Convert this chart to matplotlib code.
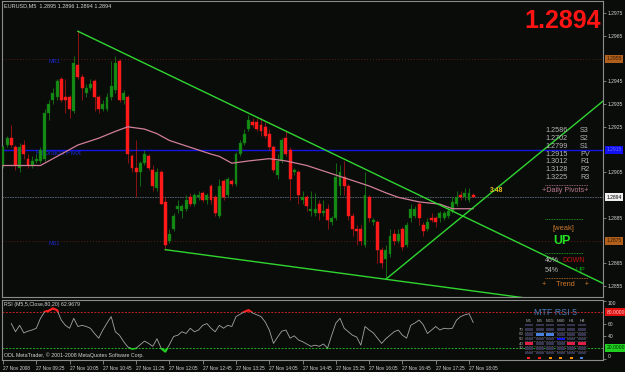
import numpy as np
import matplotlib
matplotlib.use('Agg')
import matplotlib.pyplot as plt
from matplotlib.lines import Line2D
from matplotlib.patches import Rectangle

plt.rcParams['font.family'] = ['Liberation Sans', 'DejaVu Sans']

W, H = 625, 372
BG = '#0a0c0a'
TXT = '#d4d4d4'
FRAME = '#8c8c8c'

SYMBOL = 'EURUSD,M5'

# ---- M5 candles, 27 Nov 2008, first bar 08:45 ----
opens = [1.2908, 1.2917, 1.2920, 1.2916, 1.2907, 1.2917, 1.2911, 1.2908, 1.2910, 1.2910,
         1.2911, 1.2931, 1.2937, 1.2938, 1.2946, 1.2938, 1.2938, 1.2932, 1.2952, 1.2947,
         1.2940, 1.2942, 1.2945, 1.2938, 1.2933, 1.2933, 1.2938, 1.2941, 1.2954, 1.2937,
         1.2938, 1.2912, 1.2907, 1.2905, 1.2909, 1.2912, 1.2906, 1.2898, 1.2905, 1.2892,
         1.2875, 1.2880, 1.2889, 1.2888, 1.2889, 1.2894, 1.2891, 1.2894, 1.2896, 1.2893,
         1.2899, 1.2894, 1.2886, 1.2901, 1.2895, 1.2901, 1.2900, 1.2913, 1.2918, 1.2924,
         1.2927, 1.2927, 1.2926, 1.2925, 1.2922, 1.2916, 1.2904, 1.2910, 1.2920, 1.2915,
         1.2905, 1.2905, 1.2893, 1.2894, 1.2888, 1.2887, 1.2891, 1.2887, 1.2889, 1.2883,
         1.2885, 1.2899, 1.2903, 1.2899, 1.2886, 1.2880, 1.2880, 1.2873, 1.2894, 1.2883,
         1.2883, 1.2871, 1.2867, 1.2869, 1.2878, 1.2875, 1.2880, 1.2873, 1.2885, 1.2886,
         1.2891, 1.2882, 1.2880, 1.2885, 1.2885, 1.2885, 1.2885, 1.2886, 1.2888, 1.2891,
         1.2895, 1.2894, 1.2893, 1.2895]
highs = [1.2917, 1.2921, 1.2926, 1.2917, 1.2918, 1.2919, 1.2913, 1.2912, 1.2913, 1.2916,
         1.2933, 1.2937, 1.2942, 1.2946, 1.2947, 1.2946, 1.2939, 1.2956, 1.2967, 1.2948,
         1.2944, 1.2946, 1.2946, 1.2939, 1.2937, 1.2940, 1.2954, 1.2956, 1.2955, 1.2941,
         1.2939, 1.2913, 1.2919, 1.2910, 1.2915, 1.2913, 1.2908, 1.2907, 1.2906, 1.2894,
         1.2880, 1.2887, 1.2893, 1.2891, 1.2895, 1.2896, 1.2896, 1.2897, 1.2897, 1.2896,
         1.2900, 1.2895, 1.2902, 1.2902, 1.2903, 1.2902, 1.2914, 1.2919, 1.2924, 1.2930,
         1.2929, 1.2929, 1.2929, 1.2927, 1.2924, 1.2917, 1.2913, 1.2920, 1.2923, 1.2916,
         1.2907, 1.2906, 1.2897, 1.2895, 1.2897, 1.2896, 1.2893, 1.2893, 1.2891, 1.2886,
         1.2909, 1.2908, 1.2910, 1.2900, 1.2887, 1.2882, 1.2882, 1.2905, 1.2895, 1.2885,
         1.2884, 1.2872, 1.2873, 1.2880, 1.2880, 1.2880, 1.2881, 1.2883, 1.2891, 1.2890,
         1.2892, 1.2883, 1.2885, 1.2887, 1.2886, 1.2888, 1.2888, 1.2890, 1.2894, 1.2897,
         1.2897, 1.2898, 1.2898, 1.2896]
lows = [1.2907, 1.2916, 1.2916, 1.2906, 1.2905, 1.2911, 1.2907, 1.2907, 1.2909, 1.2909,
        1.2910, 1.2928, 1.2935, 1.2937, 1.2936, 1.2931, 1.2929, 1.2931, 1.2946, 1.2937,
        1.2938, 1.2941, 1.2932, 1.2931, 1.2932, 1.2932, 1.2937, 1.2940, 1.2936, 1.2935,
        1.2909, 1.2905, 1.2894, 1.2899, 1.2908, 1.2906, 1.2897, 1.2897, 1.2891, 1.2871,
        1.2874, 1.2879, 1.2887, 1.2885, 1.2888, 1.2890, 1.2890, 1.2893, 1.2892, 1.2891,
        1.2891, 1.2886, 1.2885, 1.2893, 1.2894, 1.2899, 1.2899, 1.2912, 1.2917, 1.2923,
        1.2925, 1.2923, 1.2921, 1.2920, 1.2915, 1.2905, 1.2902, 1.2909, 1.2912, 1.2893,
        1.2904, 1.2891, 1.2891, 1.2888, 1.2886, 1.2886, 1.2884, 1.2886, 1.2880, 1.2882,
        1.2884, 1.2895, 1.2895, 1.2884, 1.2877, 1.2873, 1.2873, 1.2872, 1.2883, 1.2882,
        1.2865, 1.2863, 1.2858, 1.2868, 1.2873, 1.2874, 1.2871, 1.2872, 1.2883, 1.2885,
        1.2882, 1.2877, 1.2879, 1.2883, 1.2881, 1.2883, 1.2884, 1.2885, 1.2887, 1.2890,
        1.2893, 1.2893, 1.2892, 1.2894]
closes = [1.2916, 1.2920, 1.2917, 1.2908, 1.2916, 1.2913, 1.2908, 1.2910, 1.2911, 1.2915,
          1.2931, 1.2935, 1.2940, 1.2945, 1.2937, 1.2937, 1.2933, 1.2953, 1.2947, 1.2942,
          1.2942, 1.2944, 1.2938, 1.2933, 1.2935, 1.2938, 1.2943, 1.2953, 1.2937, 1.2940,
          1.2913, 1.2907, 1.2905, 1.2909, 1.2913, 1.2907, 1.2899, 1.2905, 1.2891, 1.2873,
          1.2878, 1.2886, 1.2890, 1.2890, 1.2893, 1.2891, 1.2895, 1.2895, 1.2893, 1.2895,
          1.2893, 1.2887, 1.2899, 1.2894, 1.2902, 1.2900, 1.2913, 1.2918, 1.2922, 1.2928,
          1.2926, 1.2924, 1.2923, 1.2921, 1.2916, 1.2906, 1.2910, 1.2919, 1.2913, 1.2902,
          1.2906, 1.2895, 1.2894, 1.2890, 1.2889, 1.2889, 1.2887, 1.2888, 1.2884, 1.2885,
          1.2903, 1.2905, 1.2899, 1.2886, 1.2880, 1.2879, 1.2875, 1.2895, 1.2885, 1.2884,
          1.2871, 1.2865, 1.2871, 1.2877, 1.2875, 1.2878, 1.2872, 1.2882, 1.2889, 1.2889,
          1.2885, 1.2879, 1.2883, 1.2884, 1.2883, 1.2887, 1.2887, 1.2888, 1.2892, 1.2894,
          1.2894, 1.2896, 1.2896, 1.2894]

time_label_bars = [0, 8, 16, 24, 32, 40, 48, 56, 64, 72, 80, 88, 96, 104, 112]
time_labels = ['27 Nov 2008', '27 Nov 09:25', '27 Nov 10:05', '27 Nov 10:45', '27 Nov 11:25',
               '27 Nov 12:05', '27 Nov 12:45', '27 Nov 13:25', '27 Nov 14:05', '27 Nov 14:45',
               '27 Nov 15:25', '27 Nov 16:05', '27 Nov 16:45', '27 Nov 17:25', '27 Nov 18:05']
price_ticks = [1.2975, 1.2965, 1.2945, 1.2935, 1.2925, 1.2905, 1.2885, 1.2865, 1.2855]

# moving average (pink), read at these bars
ma_bars = [0, 9, 11, 18, 23, 27, 30, 34, 37, 40, 45, 50, 52, 55, 59, 64, 68, 73, 78, 83,
           88, 92, 95, 100, 105, 108, 113]
ma_values = [1.2908, 1.2908, 1.2910, 1.2917, 1.2920, 1.2923, 1.2925, 1.2924, 1.2922, 1.2919,
             1.2916, 1.2913, 1.2912, 1.2909, 1.2910, 1.2911, 1.2910, 1.2908, 1.2905, 1.2902,
             1.2899, 1.2896, 1.2894, 1.2892, 1.2891, 1.2889, 1.2889]

# trendline anchors (bar, price); drawn as rays to the right
trend_upper = [(18, 1.2967), (100, 1.2895)]
trend_lower = [(39, 1.2871), (92, 1.2858)]
trend_rise = [(92, 1.2858), (110, 1.2885)]

level_pv = 1.2915
level_mr1 = 1.2955
level_ms1 = 1.2875

# RSI(5) from bar 2
rsi_start = 2
rsi = [61, 47, 58, 45, 48, 50, 53, 70, 81, 83, 87, 84, 67, 58, 53, 70, 56, 58, 56, 53,
       44, 36, 50, 62, 73, 47, 41, 30, 21, 18, 19, 25, 31, 27, 22, 35, 19, 13, 25, 39,
       41, 47, 44, 53, 47, 50, 58, 61, 53, 47, 58, 53, 58, 56, 73, 77, 81, 84, 79, 76,
       73, 64, 50, 27, 38, 48, 50, 36, 40, 33, 30, 26, 22, 24, 22, 26, 19, 41, 62, 70,
       53, 47, 41, 38, 24, 56, 50, 45, 36, 27, 35, 41, 47, 50, 41, 36, 58, 62, 67, 59,
       44, 50, 56, 50, 53, 52, 53, 67, 73, 76, 78, 62.9679]
rsi_high, rsi_low = 80, 20

pivot_names = ['S3', 'S2', 'S1', 'PV', 'R1', 'R2', 'R3']
pivot_values = [1.2586, 1.2702, 1.2799, 1.2915, 1.3012, 1.3128, 1.3225]
trend_pct = [46, 54]
trend_dir = ['DOWN', 'UP']
trend_colors = ['#c41010', '#10a010']

mtf_frames = ['M1', 'M5', 'M15', 'M30', 'H1', 'H4']
mtf_rows = ['', '70', '60', '50', '40', '30', '']
mtf_hit = ['40', '60', '60', '50', '40', '40']
mtf_hit_colors = ['#e0204a', '#4a80e0', '#4a80e0', '#1414ff', '#e0204a', '#e0204a']
mtf_dots = ['#ff2020', '#ff2020', '#ff8c00', '#ff8c00', '#ff8c00', '#4a80e0']


def fx(px):
    return px / W


def fy(py):
    return 1 - py / H


def ray(p0, p1, x_end):
    (x0, y0), (x1, y1) = p0, p1
    slope = (y1 - y0) / (x1 - x0)
    return [x0, x_end], [y0, y0 + slope * (x_end - x0)]


def style_axes(ax):
    ax.set_facecolor(BG)
    for sp in ax.spines.values():
        sp.set_color(FRAME)
        sp.set_linewidth(0.8)


fig = plt.figure(figsize=(W / 100, H / 100), dpi=100, facecolor=BG)
ax = fig.add_axes([fx(2), fy(297), fx(603) - fx(2), fy(1) - fy(297)])
ax_rsi = fig.add_axes([fx(2), fy(360), fx(603) - fx(2), fy(300) - fy(360)])
style_axes(ax)
style_axes(ax_rsi)

XLIM = (-0.24, 144.2)

# ---- price panel ----
o, h, l, c = (np.array(v) for v in (opens, highs, lows, closes))
x = np.arange(len(o))
up = c > o
body = np.maximum(np.abs(c - o), 0.00003)
bottom = np.minimum(o, c)

ax.vlines(x[up], l[up], h[up], color='#137a13', lw=0.6, zorder=2)
ax.vlines(x[~up], l[~up], h[~up], color='#a01414', lw=0.6, zorder=2)
ax.bar(x[up], body[up], bottom=bottom[up], width=0.7, color='#168e16',
       edgecolor='#0d6a0d', lw=0.3, zorder=3)
ax.bar(x[~up], body[~up], bottom=bottom[~up], width=0.7, color='#ff1a1a',
       edgecolor='#ff1a1a', lw=0.3, zorder=3)

ax.axhline(level_pv, color='#1414e6', lw=1.0, zorder=1)
ax.axhline(level_mr1, color='#5a1c14', lw=0.7, ls=(0, (1, 2)), zorder=1)
ax.axhline(level_ms1, color='#5a1c14', lw=0.7, ls=(0, (1, 2)), zorder=1)
ax.axhline(closes[-1], color='#5a6a7a', lw=0.6, ls=(0, (2, 1)), zorder=1)

ax.text(11, level_mr1, 'MR1', color='#1a2ad0', fontsize=4, va='top', zorder=1)
ax.text(8, level_pv, 'Fibonacci Pivot', color='#1a2ad0', fontsize=4.8, va='top', zorder=1)
ax.text(11, level_ms1, 'MS1', color='#1a2ad0', fontsize=4, va='top', zorder=1)

ax.plot(ma_bars, ma_values, color='#d07f98', lw=0.9, zorder=4)

for anchors in (trend_upper, trend_lower, trend_rise):
    xs, ys = ray(anchors[0], anchors[1], XLIM[1])
    ax.plot(xs, ys, color='#2fd62f', lw=1.0, zorder=5)

ax.set_xlim(*XLIM)
ax.set_ylim(1.28502, 1.29803)
ax.set_xticks([])
ax.yaxis.tick_right()
ax.set_yticks(price_ticks)
ax.set_yticklabels([f'{p:.4f}' for p in price_ticks])
ax.tick_params(axis='y', length=2, width=0.6, color=FRAME, labelsize=3.6,
               labelcolor=TXT, pad=1.5)


def price_box(axis, value, text, fc, tc):
    axis.text(1.006, value, text, transform=axis.get_yaxis_transform(), ha='left',
              va='center', fontsize=3.6, color=tc, clip_on=False,
              bbox=dict(boxstyle='square,pad=0.3', fc=fc, ec='none'))


price_box(ax, level_mr1, f'{level_mr1:.4f}', '#b0601c', '#3a1a00')
price_box(ax, level_pv, f'{level_pv:.4f}', '#1010f0', '#6a6aff')
price_box(ax, closes[-1], f'{closes[-1]:.4f}', '#f0f0f0', '#000000')
price_box(ax, level_ms1, f'{level_ms1:.4f}', '#b0601c', '#3a1a00')

# ---- RSI panel ----
rx = np.arange(rsi_start, rsi_start + len(rsi))
ax_rsi.axhline(rsi_high, color='#c42020', lw=0.7, ls=(0, (2, 1.5)))
ax_rsi.axhline(rsi_low, color='#20b020', lw=0.7, ls=(0, (2, 1.5)))
ax_rsi.plot(rx, rsi, color='#a4a4a4', lw=0.6)
hi_line, = ax_rsi.plot(rx, rsi, color='#ff2020', lw=1.6)
hi_line.set_clip_path(Rectangle((XLIM[0], rsi_high), XLIM[1] - XLIM[0], 40,
                                transform=ax_rsi.transData))
lo_line, = ax_rsi.plot(rx, rsi, color='#22d022', lw=1.6)
lo_line.set_clip_path(Rectangle((XLIM[0], -20), XLIM[1] - XLIM[0], rsi_low + 20,
                                transform=ax_rsi.transData))

ax_rsi.set_xlim(*XLIM)
ax_rsi.set_ylim(-1.4, 101.4)
ax_rsi.yaxis.tick_right()
rsi_ticks = [100, 60, 40, 0]
ax_rsi.set_yticks(rsi_ticks)
ax_rsi.set_yticklabels([str(t) for t in rsi_ticks])
ax_rsi.tick_params(axis='y', length=2, width=0.6, color=FRAME, labelsize=3.6,
                   labelcolor=TXT, pad=1.5)
ylabels = ax_rsi.get_yticklabels()
ylabels[0].set_va('top')
ylabels[-1].set_va('bottom')
price_box(ax_rsi, rsi_high, f'{rsi_high:.4f}', '#e01010', '#ffd0d0')
price_box(ax_rsi, rsi_low, f'{rsi_low:.4f}', '#20d020', '#003000')

ax_rsi.set_xticks(time_label_bars)
ax_rsi.set_xticklabels(time_labels, ha='left')
ax_rsi.tick_params(axis='x', length=3, width=0.6, color=FRAME, labelsize=3.45,
                   labelcolor=TXT, pad=1.4)

ax_rsi.text(0.003, 0.92, f'RSI (M5,5,Close,{rsi_high},{rsi_low}) {rsi[-1]:.4f}',
            transform=ax_rsi.transAxes, fontsize=3.8, color=TXT, va='center')
ax_rsi.text(0.003, 0.04, 'ODL MetaTrader, \u00a9 2001-2008 MetaQuotes Software Corp.',
            transform=ax_rsi.transAxes, fontsize=3.8, color=TXT, va='bottom')

# ---- MTF RSI table ----
tab = fig.add_axes([fx(512), fy(363), fx(600) - fx(512), fy(305) - fy(363)])
tab.set_xlim(-1.6, 6.7)
tab.set_ylim(8.14, -4.28)
tab.axis('off')
tab.text(2.5, -2.57, 'MTF RSI 5', color='#4a7ab8', fontsize=6.4, ha='center', va='center')
for j, name in enumerate(mtf_frames):
    tab.text(j, -0.86, name, color='#a8a8a8', fontsize=3.2, ha='center', va='center')
for k, lab in enumerate(mtf_rows):
    if lab:
        tab.text(-0.75, k, lab, color='#a8a8a8', fontsize=3.2, ha='center', va='center')
    if 0 < k < len(mtf_rows) - 1:
        tab.plot([-0.4, 5.5], [k + 0.5, k + 0.5], color='#8a8a8a', lw=0.4,
                 ls=(0, (1.5, 1.5)))
for j, name in enumerate(mtf_frames):
    for k, lab in enumerate(mtf_rows):
        hit = lab == mtf_hit[j]
        fc = mtf_hit_colors[j] if hit else '#34344e'
        tab.add_patch(Rectangle((j - 0.38, k - 0.28), 0.76, 0.56, fc=fc, ec='none'))
    tab.add_patch(Rectangle((j - 0.14, 7.07 - 0.3), 0.28, 0.6, fc=mtf_dots[j], ec='none'))

# ---- text overlays ----
fig.text(fx(4), fy(6), f'{SYMBOL}  {opens[-1]:.4f} {highs[-1]:.4f} {lows[-1]:.4f} {closes[-1]:.4f}',
         fontsize=4, color=TXT, va='center')
fig.text(fx(601), fy(9), f'{closes[-1]:.4f}', fontsize=18, weight='bold', color='#ff1414',
         ha='right', va='top')
fig.text(fx(490), fy(191), '3:48', fontsize=4.8, weight='bold', color='#e8c020', va='center')

for k, (name, val) in enumerate(zip(pivot_names, pivot_values)):
    yy = 131 + 7.7 * k
    fig.text(fx(545), fy(yy), f'{val:.4f}', fontsize=5.2, color='#b4b4b4', va='center')
    fig.text(fx(580), fy(yy), name, fontsize=5.2, color='#b4b4b4', va='center')


def sep(y, color, x0=545, x1=588):
    fig.add_artist(Line2D([fx(x0), fx(x1)], [fy(y), fy(y)], color=color, lw=0.6,
                          ls=(0, (1, 1))))


sep(185, '#b87890')
fig.text(fx(565), fy(191), '+Daily Pivots+', fontsize=5.2, color='#b87890',
         ha='center', va='center')
sep(219, '#20b020', 545, 583)
fig.text(fx(563), fy(229), '[weak]', fontsize=5.4, color='#c8782c', ha='center', va='center')
fig.text(fx(562), fy(241), 'UP', fontsize=9, weight='bold', color='#22e022',
         ha='center', va='center')
sep(253, '#20b020', 545, 583)
for k, (pct, d, col) in enumerate(zip(trend_pct, trend_dir, trend_colors)):
    yy = 261 + 10 * k
    fig.text(fx(545), fy(yy), f'{pct}%', fontsize=5, color='#b4b4b4', va='center')
    fig.text(fx(585), fy(yy), d, fontsize=5, color=col, va='center', ha='right')
sep(278, '#c8782c')
fig.text(fx(565), fy(285), '+     Trend     +', fontsize=5.2, color='#d0782a',
         ha='center', va='center')

fig.savefig('out.png', dpi=100, facecolor=BG)
